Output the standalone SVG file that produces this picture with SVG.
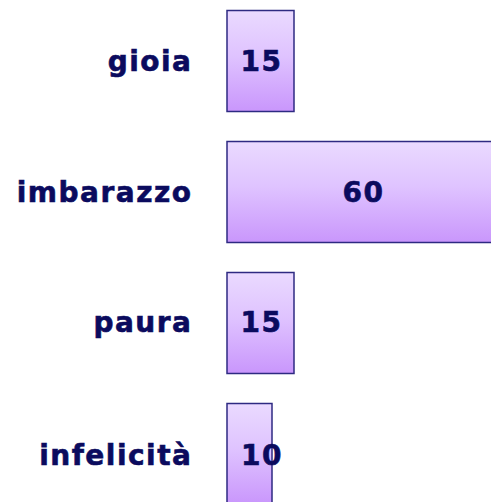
<svg xmlns="http://www.w3.org/2000/svg" width="491" height="502" viewBox="0 0 491 502">
<defs>
<linearGradient id="g" x1="0" y1="0" x2="0" y2="1">
<stop offset="0" stop-color="#eadaff"/>
<stop offset="0.45" stop-color="#dfc3ff"/>
<stop offset="1" stop-color="#c996fc"/>
</linearGradient>
<style>
.bar{fill:url(#g);stroke:#2e2a82;stroke-width:1.5}
.t{font-family:"DejaVu Sans",Verdana,sans-serif;font-weight:bold;font-size:28px;letter-spacing:1.5px;fill:#0b0b5e;stroke:#0b0b5e;stroke-width:0.6px}
.lbl{text-anchor:end}
.num{text-anchor:middle}
</style>
</defs>
<rect width="491" height="502" fill="#ffffff"/>
<g id="gioia">
<rect class="bar" x="227" y="10.5" width="67" height="101"/>
<text class="t lbl" x="192.5" y="71">gioia</text>
<text class="t num" x="261.5" y="71">15</text>
</g>
<g id="imbarazzo">
<rect class="bar" x="227" y="141.5" width="272" height="101"/>
<text class="t lbl" x="192.5" y="202">imbarazzo</text>
<text class="t num" x="363.5" y="202">60</text>
</g>
<g id="paura">
<rect class="bar" x="227" y="272.5" width="67" height="101"/>
<text class="t lbl" x="192.5" y="332">paura</text>
<text class="t num" x="261.5" y="332">15</text>
</g>
<g id="infelicita">
<rect class="bar" x="227" y="403.5" width="45" height="101"/>
<text class="t lbl" x="192.5" y="465">infelicità</text>
<text class="t num" x="262" y="465">10</text>
</g>
<g id="connectors"/>
</svg>
